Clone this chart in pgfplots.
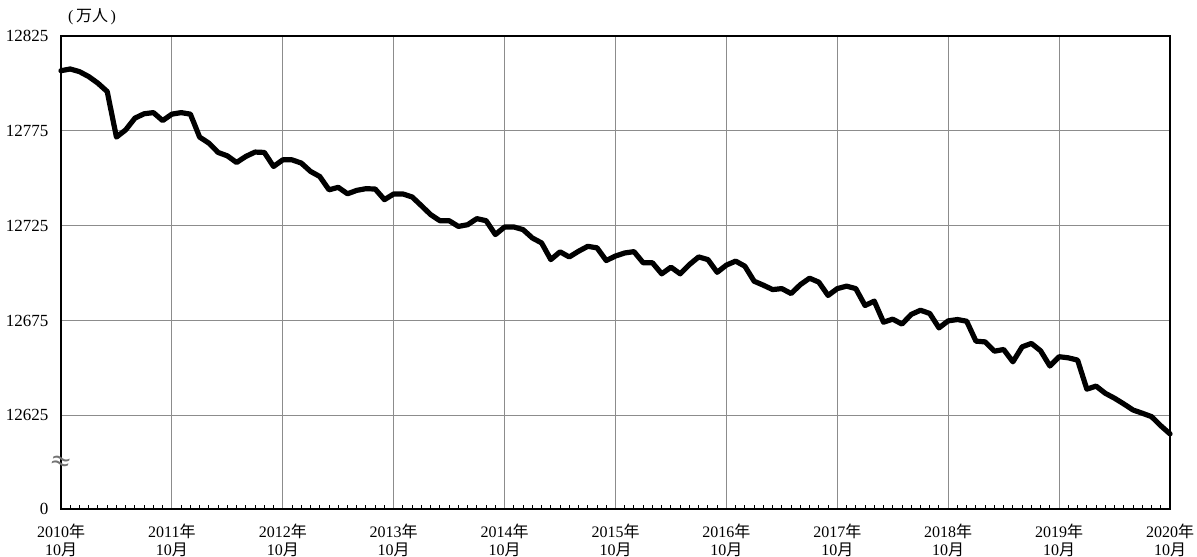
\documentclass[border=0pt]{standalone}
\usepackage{fontspec}
\setmainfont{Liberation Serif}
\newfontfamily\jp{Noto Sans CJK JP}
\newfontfamily\dejavu{DejaVu Sans}
\usepackage{pgfplots}
\pgfplotsset{compat=1.18}
\usepackage{pgfplotstable}

\pgfplotstableread{
m v
0 12806.7
1 12807.6
2 12806.2
3 12803.6
4 12800.1
5 12795.7
6 12771.7
7 12775.5
8 12781.7
9 12784.0
10 12784.6
11 12780.4
12 12783.8
13 12784.6
14 12783.8
15 12771.7
16 12768.5
17 12763.6
18 12761.8
19 12758.3
20 12761.5
21 12763.8
22 12763.6
23 12756.2
24 12759.7
25 12759.7
26 12758.0
27 12753.6
28 12750.9
29 12743.9
30 12745.2
31 12741.8
32 12743.6
33 12744.5
34 12744.3
35 12738.7
36 12741.7
37 12741.7
38 12740.1
39 12735.5
40 12730.8
41 12727.6
42 12727.6
43 12724.6
44 12725.5
45 12728.7
46 12727.6
47 12720.3
48 12724.3
49 12724.3
50 12722.9
51 12718.5
52 12715.9
53 12707.1
54 12711.2
55 12708.5
56 12711.5
57 12714.1
58 12713.3
59 12706.6
60 12709.0
61 12710.6
62 12711.3
63 12705.4
64 12705.4
65 12699.6
66 12703.1
67 12699.6
68 12704.5
69 12708.5
70 12707.1
71 12700.4
72 12704.2
73 12706.3
74 12703.6
75 12695.7
76 12693.6
77 12691.3
78 12691.8
79 12689.2
80 12693.9
81 12697.3
82 12695.2
83 12688.2
84 12691.8
85 12693.1
86 12691.8
87 12682.9
88 12685.2
89 12674.1
90 12675.7
91 12673.1
92 12678.2
93 12680.4
94 12678.7
95 12671.1
96 12674.8
97 12675.5
98 12674.6
99 12664.1
100 12663.7
101 12658.8
102 12659.7
103 12653.2
104 12661.1
105 12662.9
106 12659.0
107 12651.0
108 12655.9
109 12655.3
110 12654.1
111 12638.8
112 12640.4
113 12636.6
114 12634.0
115 12631.0
116 12627.8
117 12626.1
118 12624.3
119 12619.5
120 12615.2
}\popdata

\begin{document}
\fontsize{8}{9.6}\selectfont
\begin{tikzpicture}
\useasboundingbox (-30.5pt,-23.5pt) rectangle (568pt,254.5pt);
\begin{axis}[
  at={(0,0)}, anchor=south west,
  scale only axis,
  width=554.5pt, height=236.5pt,
  xmin=0, xmax=120,
  ymin=12575.6, ymax=12825,
  scaled y ticks=false, scaled x ticks=false,
  xtick={0,12,...,120},
  xticklabels={
    {2010{\jp 年}\\10{\jp 月}},
    {2011{\jp 年}\\10{\jp 月}},
    {2012{\jp 年}\\10{\jp 月}},
    {2013{\jp 年}\\10{\jp 月}},
    {2014{\jp 年}\\10{\jp 月}},
    {2015{\jp 年}\\10{\jp 月}},
    {2016{\jp 年}\\10{\jp 月}},
    {2017{\jp 年}\\10{\jp 月}},
    {2018{\jp 年}\\10{\jp 月}},
    {2019{\jp 年}\\10{\jp 月}},
    {2020{\jp 年}\\10{\jp 月}}},
  xticklabel style={align=center, font=\fontsize{8}{9}\selectfont, yshift=-4.5pt},
  minor x tick num=11,
  ytick={12575.6,12625,12675,12725,12775,12825},
  yticklabels={0,12625,12675,12725,12775,12825},
  yticklabel style={font=\fontsize{8.5}{10}\selectfont, xshift=-3.5pt},
  /pgf/number format/assume math mode=true,
  xmajorgrids, ymajorgrids,
  major grid style={draw=black!45, line width=0.5pt},
  major tick length=0pt,
  minor tick length=1.8pt,
  minor tick style={black, line width=0.5pt},
  tick align=inside,
  xtick pos=bottom,
  ytick pos=left,
  axis line style={black, line width=0.6pt},
  clip=false,
]
\draw[black, line width=1.2pt] (rel axis cs:0,0) -- (rel axis cs:1,0);
\draw[black, line width=1.2pt] (rel axis cs:0,1) -- (rel axis cs:1,1);
\addplot[black, line width=2.6pt, line join=round, line cap=round] table[x=m, y=v] {\popdata};
\node[anchor=center, text=black!55, inner sep=0pt, rotate=-15, font=\dejavu\fontsize{13}{13}\selectfont] at (rel axis cs:0,0.097) {≈};
\node[anchor=west, inner sep=0pt] at (rel axis cs:0.006,1.04) {(\,{\jp 万人}\,)};
\end{axis}
\end{tikzpicture}
\end{document}
